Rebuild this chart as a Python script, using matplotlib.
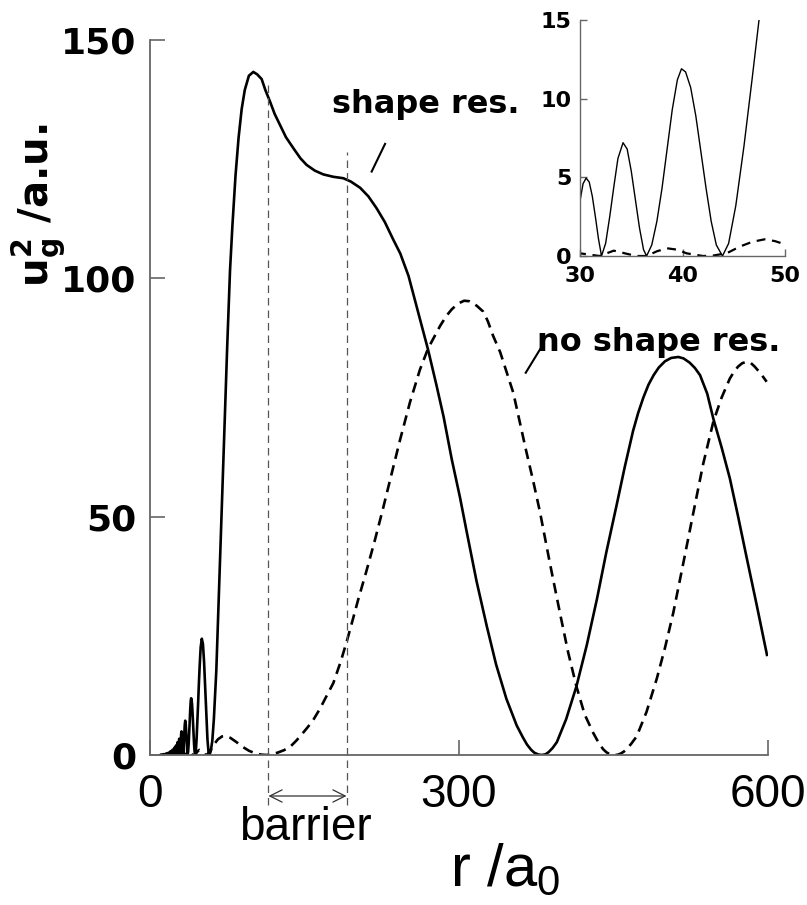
import matplotlib
matplotlib.use("Agg")
import matplotlib.pyplot as plt

plt.rcParams['font.family'] = ['DejaVu Sans']
plt.rcParams['mathtext.fontset'] = 'custom'
plt.rcParams['mathtext.rm'] = 'Liberation Sans'
plt.rcParams['mathtext.it'] = 'Liberation Sans:italic'
plt.rcParams['mathtext.bf'] = 'DejaVu Sans:bold'

# ---- data ----
solid_r = [10, 11.2, 12.5, 13.6, 14.8, 15.9, 17.0, 18.0, 19.0, 19.95, 20.9, 21.8, 22.7, 23.55, 24.4,
           25.2, 26.0, 26.8, 27.6, 28.0, 28.35, 28.7, 29.1,
           29.4, 29.7, 30.0, 30.3, 30.6, 30.9, 31.2, 31.5, 31.8, 32.1,
           32.5, 32.9, 33.3, 33.7, 34.2, 34.6, 35.0, 35.4, 35.8, 36.2, 36.5,
           37.0, 37.5, 38.0, 38.5, 39.0, 39.5, 39.9, 40.3, 40.8, 41.3, 41.8, 42.3, 42.8, 43.3, 43.9,
           44.5, 45.2, 46.0, 46.8, 47.5, 48.3, 49.2, 50.3, 51.4, 52.5, 53.6, 54.7, 55.8, 56.8, 57.7,
           59.0, 60.5, 62.0, 63.2, 64.4, 66, 68, 70.9, 73, 75, 77.7, 80, 83, 86, 89, 92, 96, 100.3,
           104, 108.4, 112, 116.5, 121, 126.2, 132, 139.2, 146, 152, 160, 168.3, 178, 187.7, 195,
           204, 212, 220, 228, 236, 243, 251, 259, 270, 278, 285, 293, 301, 307.5, 317, 327, 336,
           346, 356, 362, 366, 370, 373, 377, 380.3, 384, 387, 391, 395, 404, 414, 424, 434, 443,
           453, 461, 469, 474, 479, 484, 489, 494, 500, 506, 513, 518, 524, 529, 534, 541, 547,
           555, 563, 571, 579, 589, 599]
solid_u = [0, 0.1, 0, 0.2, 0, 0.35, 0, 0.5, 0, 0.8, 0, 1.1, 0, 1.5, 0,
           2.0, 0, 2.7, 0, 1.6, 3.4, 1.6, 0,
           0.6, 1.8, 3.5, 4.6, 4.95, 4.7, 3.8, 2.5, 1.1, 0,
           0.8, 2.5, 4.4, 6.2, 7.2, 6.8, 5.4, 3.6, 1.8, 0.4, 0,
           0.7, 2.2, 4.3, 6.8, 9.3, 11.2, 11.9, 11.7, 10.7, 8.9, 6.6, 4.3, 2.2, 0.7, 0,
           0.8, 3.2, 7.0, 11.3, 15.2, 19.0, 22.6, 24.4, 23.3, 19.5, 14.0, 8.0, 3.2, 0.7, 0,
           0.8, 3.0, 7.5, 12.5, 17.8, 28, 40.5, 59.8, 73, 86, 101.7, 111, 121.5, 129.5, 135.5, 139.5, 142.5, 143.3,
           142.8, 141.8, 139.5, 137.1, 134.5, 132.2, 129.6, 127.3, 125.2, 123.8, 122.6, 121.8, 121.3, 121.0, 120.3,
           119.0, 117.2, 114.7, 111.8, 108.2, 105.2, 100.5, 94, 85, 77.7, 71, 62, 54, 46.8, 36.5, 27, 19,
           11.8, 6.2, 3.7, 2.2, 1.1, 0.5, 0.1, 0, 0.15, 0.6, 1.5, 2.7, 7.5, 14.4, 23, 32.8, 42.5,
           52.4, 60.5, 68, 71.8, 75, 77.7, 79.7, 81.3, 82.6, 83.3, 83.5, 83.2, 82.3, 81.2, 79.7, 75.8, 70.5,
           64.5, 58, 50, 41.7, 31.5, 21]

dashed_r = [10, 22, 26, 28.5, 30, 31.9, 33.3, 34.5, 35.5, 36.5, 37.5, 38.5, 39.5, 40.4, 42, 43,
            44.3, 45.6, 46.8, 48, 49, 50, 52.5, 55, 58, 62, 66, 70, 73, 78, 84, 90, 96, 102, 108,
            113, 118, 124, 130, 136, 142, 148, 153, 158.5, 165, 171, 178, 185, 191, 197, 202, 210,
            218, 226, 234, 243, 252.4, 262, 270, 281.6, 288, 293, 299, 305, 310, 314, 318, 323.6,
            328, 333, 340, 352.7, 365, 372, 378.6, 388, 398, 406, 414, 422, 430.4, 436, 440, 443,
            446, 449, 451.5, 454, 457, 460, 463, 467, 472.5, 482, 492, 500, 508, 518, 527.5, 537,
            547, 555, 563, 567, 571, 575, 579.3, 583, 587, 593, 598.7]
dashed_u = [0, 0, 0.1, 0.25, 0.17, 0, 0.34, 0.15, 0, 0, 0.3, 0.49, 0.4, 0.17, 0, 0.03,
            0.17, 0.6, 0.9, 1.06, 0.95, 0.74, 0.2, 0, 0.7, 2.2, 3.3, 3.9, 4.0, 3.6, 2.7, 1.7, 0.9, 0.35, 0.08,
            0, 0.15, 0.5, 1.0, 1.7, 3.0, 4.5, 5.8, 7.35, 9.7, 12.2, 15.1, 19.5, 23.8, 28.5, 32.5, 38.5,
            44.8, 51.5, 58.5, 66.3, 74.0, 80.8, 85.3, 90, 92.2, 93.5, 94.7, 95.3, 95.2, 94.8, 94.1, 93,
            91, 88, 84.5, 76, 64, 57.5, 51, 40.5, 29.8, 21.5, 14.4, 8.5, 4.6, 2.4, 1.2, 0.6,
            0.2, 0.05, 0, 0.05, 0.3, 0.7, 1.3, 2.3, 3.9, 9, 16, 22.5, 29.8, 40.5, 50.8, 61,
            70, 75, 79, 80.4, 81.5, 82.2, 82.5, 82.3, 81.5, 80, 78.3]

barrier_r = [115, 190.8]
barrier_top = [141, 126.5]
barrier_bottom = -10.5
arrow_u = -8.6

main_xticks = [0, 300, 600]
main_yticks = [0, 50, 100, 150]
inset_xticks = [30, 40, 50]
inset_yticks = [0, 5, 10, 15]

W, H = 807, 905
fig = plt.figure(figsize=(W / 100, H / 100), dpi=100)

ax = fig.add_axes([150 / W, (H - 755) / H, 618 / W, 715 / H])
ax.set_xlim(0, 600)
ax.set_ylim(0, 150)
for s in ['top', 'right']:
    ax.spines[s].set_visible(False)
for s in ['left', 'bottom']:
    ax.spines[s].set_color('#666666')
    ax.spines[s].set_linewidth(1.3)

ax.plot(solid_r, solid_u, color='black', lw=1.9)
ax.plot(dashed_r, dashed_u, color='black', lw=1.9, ls=(0, (4, 2.5)))

# barrier markers
for r, top in zip(barrier_r, barrier_top):
    ax.plot([r, r], [barrier_bottom, top], color='#555555', lw=0.9,
            ls=(0, (6, 4)), clip_on=False)
ax.annotate('', xy=(barrier_r[0], arrow_u), xytext=(barrier_r[1], arrow_u),
            arrowprops=dict(arrowstyle='<->', lw=0.9, color='#333333',
                            mutation_scale=22, shrinkA=0, shrinkB=0),
            annotation_clip=False)

# pointer lines
ax.plot([215.2, 228.2], [122.4, 128.2], color='black', lw=1.5)
ax.plot([364.8, 381.8], [80.2, 86.2], color='black', lw=1.5)

ax.set_xticks(main_xticks)
ax.set_yticks(main_yticks)
ax.tick_params(axis='both', direction='in', length=11, width=1.2, color='#666666')
ax.tick_params(axis='x', pad=13)
ax.tick_params(axis='y', pad=10)
for lbl in ax.get_yticklabels():
    lbl.set_fontfamily('DejaVu Sans')
    lbl.set_fontweight('bold')
    lbl.set_fontsize(26)
for lbl in ax.get_xticklabels():
    lbl.set_fontfamily('Liberation Sans')
    lbl.set_fontsize(33)

ax.set_xlabel(r'r /a$_{\mathrm{0}}$', fontfamily='Liberation Sans', fontsize=43)
ax.xaxis.set_label_coords((505 - 150) / 618, (755 - 886) / 715)
ax.xaxis.label.set_verticalalignment('baseline')

ax.set_ylabel(r'$\mathbf{u}_\mathbf{g}^\mathbf{2}$ /a.u.', fontfamily='DejaVu Sans',
              fontweight='bold', fontsize=29)
ax.yaxis.set_label_coords((38 - 150) / 618, (755 - 205) / 715)
ax.yaxis.label.set_verticalalignment('center')

fig.text(426 / W, 1 - 105 / H, 'shape res.', ha='center', va='center',
         fontsize=23, fontweight='bold', family='DejaVu Sans')
fig.text(659 / W, 1 - 343 / H, 'no shape res.', ha='center', va='center',
         fontsize=23, fontweight='bold', family='DejaVu Sans')
fig.text(305 / W, 1 - 840 / H, 'barrier', ha='center', va='baseline',
         fontsize=33, family='Liberation Sans')

# ---- inset ----
ax2 = fig.add_axes([580 / W, (H - 256) / H, 205 / W, 236 / H])
ax2.set_xlim(30, 50)
ax2.set_ylim(0, 15)
for s in ['top', 'right']:
    ax2.spines[s].set_visible(False)
for s in ['left', 'bottom']:
    ax2.spines[s].set_color('#666666')
    ax2.spines[s].set_linewidth(1.0)
ax2.plot(solid_r, solid_u, color='black', lw=1.0)
ax2.plot(dashed_r, dashed_u, color='black', lw=1.6, ls=(0, (4, 3)))
ax2.set_xticks(inset_xticks)
ax2.set_yticks(inset_yticks)
ax2.tick_params(axis='both', direction='in', length=5, width=1.0, color='#666666')
ax2.tick_params(axis='x', pad=7)
ax2.tick_params(axis='y', pad=6)
for lbl in ax2.get_xticklabels() + ax2.get_yticklabels():
    lbl.set_fontfamily('DejaVu Sans')
    lbl.set_fontweight('bold')
    lbl.set_fontsize(16)

fig.savefig('out.png', dpi=100)
